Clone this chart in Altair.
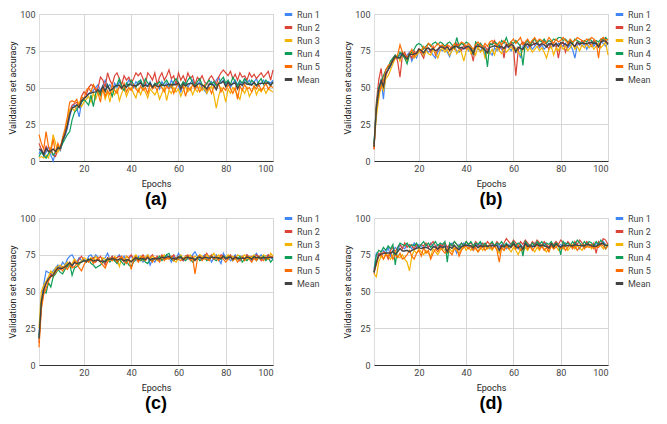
import altair as alt
import pandas as pd

epochs = list(range(1, 101))
series_names = ["Run 1", "Run 2", "Run 3", "Run 4", "Run 5", "Mean"]
series_colors = ["#4285F4", "#DB4437", "#F4B400", "#0F9D58", "#FF6D01", "#434343"]
x_ticks = [20, 40, 60, 80, 100]
y_ticks = [0, 25, 50, 75, 100]
panel_labels = ["(a)", "(b)", "(c)", "(d)"]

# ---------- panel (a) ----------
a_run1 = [5, 8, 3, 6, 10, 4, 0, 6, 9, 7,
          13, 17, 22, 30, 37, 38, 36, 30, 40, 42,
          44, 46, 47, 48, 50, 52, 48, 51, 55, 50,
          52, 48, 53, 50, 54, 51, 49, 52, 55, 53,
          50, 54, 52, 55, 49, 53, 51, 54, 50, 52,
          53, 49, 54, 51, 53, 50, 55, 52, 54, 51,
          47, 52, 54, 50, 53, 55, 51, 52, 54, 50,
          48, 46, 52, 54, 51, 55, 57, 53, 55, 52,
          54, 50, 53, 55, 52, 54, 51, 56, 53, 55,
          52, 54, 56, 51, 53, 55, 52, 54, 53, 55]
a_run2 = [12, 8, 5, 10, 6, 9, 4, 3, 8, 10,
          14, 18, 24, 34, 38, 39, 40, 38, 44, 47,
          45, 50, 52, 51, 48, 50, 57, 55, 50, 60,
          55, 52, 58, 60, 56, 52, 58, 55, 57, 53,
          56, 60, 58, 60, 56, 52, 60, 58, 55, 60,
          52, 57, 60, 55, 58, 62, 56, 58, 52, 60,
          55, 58, 54, 60, 56, 58, 52, 57, 55, 58,
          54, 52, 56, 58, 55, 52, 57, 60, 62, 60,
          58, 61, 56, 59, 55, 60, 57, 58, 55, 60,
          57, 59, 56, 58, 60, 57, 59, 61, 55, 62]
a_run3 = [2, 3, 2, 4, 2, 8, 18, 12, 6, 9,
          15, 20, 28, 35, 36, 34, 38, 40, 37, 40,
          42, 44, 40, 46, 42, 47, 44, 49, 42, 47,
          40, 48, 45, 49, 41, 46, 50, 44, 48, 50,
          46, 43, 49, 45, 50, 47, 43, 49, 47, 45,
          48, 42, 46, 50, 41, 48, 46, 50, 47, 49,
          44, 48, 51, 47, 50, 45, 49, 47, 51, 48,
          50, 46, 49, 51, 45, 36, 44, 50, 47, 40,
          49, 46, 50, 48, 45, 42, 49, 46, 50, 44,
          47, 51, 45, 49, 47, 50, 46, 49, 48, 47]
a_run4 = [3, 6, 4, 2, 5, 7, 4, 6, 10, 8,
          12, 15, 18, 20, 28, 33, 35, 38, 40, 42,
          40, 38, 45, 37, 46, 48, 45, 50, 47, 52,
          48, 44, 50, 52, 56, 50, 48, 53, 51, 55,
          52, 50, 54, 55, 51, 56, 53, 52, 50, 53,
          52, 54, 51, 53, 55, 52, 50, 54, 56, 53,
          51, 54, 52, 55, 57, 53, 51, 54, 56, 52,
          50, 53, 55, 52, 54, 51, 53, 55, 57, 53,
          55, 52, 57, 54, 51, 55, 53, 56, 54, 52,
          55, 53, 51, 54, 56, 52, 55, 53, 51, 54]
a_run5 = [18, 12, 8, 20, 10, 6, 15, 5, 12, 8,
          16, 22, 30, 40, 41, 40, 42, 36, 44, 42,
          48, 50, 47, 52, 49, 46, 40, 50, 44, 48,
          45, 52, 48, 46, 51, 49, 53, 47, 50, 48,
          52, 49, 47, 51, 48, 50, 46, 52, 49, 51,
          48, 52, 50, 47, 51, 49, 52, 46, 50, 53,
          49, 51, 44, 50, 48, 52, 49, 51, 47, 50,
          52, 48, 50, 46, 51, 49, 53, 47, 50, 48,
          52, 49, 46, 50, 42, 51, 48, 52, 49, 50,
          47, 51, 49, 52, 48, 50, 53, 49, 51, 50]

# ---------- panel (b) ----------
b_run1 = [10, 35, 48, 55, 42, 60, 62, 64, 68, 72,
          70, 72, 74, 70, 72, 74, 68, 72, 70, 75,
          74, 72, 76, 74, 75, 72, 70, 74, 76, 75,
          77, 74, 71, 76, 78, 75, 74, 77, 76, 78,
          75, 77, 74, 78, 76, 75, 77, 72, 76, 74,
          72, 77, 75, 78, 76, 74, 78, 77, 75, 78,
          74, 76, 70, 78, 80, 77, 79, 76, 78, 80,
          77, 79, 76, 78, 80, 77, 79, 78, 80, 79,
          78, 80, 77, 79, 76, 70, 79, 80, 78, 80,
          76, 79, 81, 78, 80, 79, 81, 80, 78, 80]
b_run2 = [8, 40, 55, 63, 50, 58, 62, 66, 70, 72,
          68, 57, 72, 74, 70, 73, 70, 75, 72, 76,
          73, 70, 76, 77, 74, 78, 72, 76, 78, 77,
          76, 79, 75, 78, 76, 80, 77, 75, 79, 76,
          78, 75, 68, 79, 77, 80, 76, 78, 75, 79,
          80, 82, 78, 76, 79, 70, 80, 78, 81, 77,
          58, 75, 79, 81, 78, 80, 77, 82, 79, 81,
          78, 80, 82, 79, 76, 81, 78, 80, 70, 79,
          81, 74, 79, 82, 80, 78, 81, 79, 82, 80,
          79, 81, 78, 82, 80, 78, 81, 84, 82, 80]
b_run3 = [10, 30, 42, 52, 48, 56, 58, 62, 66, 70,
          72, 68, 74, 70, 68, 72, 74, 70, 72, 74,
          76, 72, 75, 73, 72, 76, 74, 70, 75, 77,
          74, 76, 72, 75, 78, 73, 76, 74, 68, 75,
          77, 73, 76, 72, 78, 74, 76, 70, 75, 73,
          76, 72, 78, 75, 73, 77, 74, 76, 78, 75,
          77, 74, 72, 76, 78, 75, 77, 74, 76, 78,
          75, 77, 74, 70, 76, 78, 72, 77, 75, 79,
          76, 78, 75, 77, 80, 76, 78, 75, 79, 77,
          80, 77, 79, 76, 78, 80, 77, 79, 81, 72]
b_run4 = [12, 38, 50, 54, 58, 62, 64, 68, 70, 72,
          70, 74, 72, 70, 66, 72, 74, 76, 79, 80,
          79, 76, 78, 80, 78, 80, 81, 79, 81, 80,
          78, 80, 81, 79, 77, 84, 78, 80, 79, 81,
          80, 78, 72, 81, 79, 80, 78, 76, 64, 80,
          79, 81, 80, 78, 82, 80, 84, 79, 81, 80,
          82, 80, 78, 65, 80, 82, 79, 81, 83, 80,
          82, 81, 83, 80, 82, 81, 83, 82, 84, 84,
          82, 83, 81, 82, 80, 83, 82, 81, 80, 82,
          81, 83, 82, 80, 82, 81, 83, 82, 84, 82]
b_run5 = [8, 36, 46, 50, 55, 62, 65, 66, 68, 70,
          72, 79, 74, 72, 70, 73, 76, 71, 74, 76,
          74, 78, 76, 80, 79, 76, 78, 80, 78, 79,
          77, 79, 78, 76, 80, 78, 79, 81, 80, 78,
          80, 78, 76, 79, 81, 79, 77, 80, 78, 81,
          82, 80, 78, 81, 79, 82, 80, 78, 81, 83,
          80, 82, 84, 79, 81, 83, 80, 82, 84, 81,
          83, 82, 80, 81, 84, 82, 80, 83, 81, 82,
          84, 82, 80, 83, 81, 82, 84, 83, 82, 81,
          83, 82, 84, 83, 81, 70, 83, 84, 82, 83]

# ---------- panel (c) ----------
c_run1 = [20, 45, 55, 64, 63, 62, 64, 66, 68, 66,
          70, 68, 72, 74, 75, 72, 70, 73, 71, 72,
          70, 74, 75, 72, 75, 73, 70, 72, 73, 76,
          72, 74, 71, 73, 75, 72, 74, 70, 72, 74,
          73, 71, 74, 72, 70, 73, 75, 68, 72, 70,
          73, 71, 74, 72, 75, 73, 70, 74, 72, 76,
          73, 71, 74, 72, 73, 75, 77, 74, 72, 73,
          75, 72, 74, 70, 73, 75, 72, 69, 76, 73,
          74, 71, 72, 75, 73, 71, 74, 72, 75, 73,
          71, 74, 76, 73, 75, 72, 74, 75, 73, 72]
c_run2 = [15, 40, 50, 56, 58, 62, 60, 64, 66, 65,
          67, 66, 68, 70, 67, 71, 69, 72, 74, 71,
          70, 72, 71, 73, 70, 72, 74, 71, 68, 73,
          72, 74, 71, 73, 74, 72, 70, 74, 73, 75,
          72, 74, 71, 73, 75, 72, 74, 73, 75, 72,
          74, 72, 75, 73, 72, 74, 73, 75, 72, 74,
          73, 71, 74, 75, 72, 74, 71, 73, 75, 72,
          74, 76, 73, 75, 72, 74, 73, 75, 74, 72,
          73, 75, 72, 74, 73, 71, 74, 72, 75, 73,
          74, 72, 75, 73, 71, 74, 72, 75, 73, 74]
c_run3 = [25, 50, 54, 57, 60, 64, 62, 66, 67, 68,
          66, 68, 70, 67, 69, 72, 70, 68, 71, 73,
          72, 70, 73, 71, 74, 72, 70, 73, 72, 71,
          73, 71, 74, 72, 67, 73, 71, 74, 72, 70,
          73, 75, 72, 74, 71, 73, 75, 72, 74, 73,
          71, 74, 73, 75, 72, 74, 73, 71, 70, 73,
          75, 72, 74, 73, 75, 72, 74, 73, 75, 74,
          72, 75, 73, 74, 76, 73, 75, 72, 74, 73,
          75, 73, 74, 72, 75, 74, 73, 75, 72, 74,
          73, 75, 72, 74, 73, 75, 74, 72, 76, 74]
c_run4 = [18, 42, 50, 49, 56, 53, 60, 62, 65, 63,
          62, 65, 67, 69, 61, 66, 67, 69, 70, 71,
          70, 72, 69, 68, 66, 67, 68, 70, 71, 72,
          70, 72, 71, 69, 72, 70, 68, 71, 68, 67,
          70, 72, 73, 71, 72, 70, 69, 72, 71, 73,
          72, 74, 71, 73, 75, 76, 72, 71, 73, 72,
          74, 72, 71, 73, 72, 70, 72, 73, 71, 72,
          73, 71, 72, 74, 72, 71, 73, 72, 74, 73,
          72, 74, 71, 73, 72, 74, 70, 72, 71, 73,
          72, 74, 71, 73, 72, 74, 71, 73, 70, 72]
c_run5 = [12, 38, 48, 52, 57, 60, 61, 63, 65, 66,
          64, 67, 65, 68, 66, 67, 69, 66, 64, 68,
          71, 70, 72, 69, 71, 73, 70, 68, 66, 70,
          72, 71, 73, 70, 72, 74, 71, 69, 72, 65,
          71, 73, 70, 72, 74, 71, 73, 72, 70, 73,
          72, 70, 74, 71, 73, 72, 74, 71, 73, 72,
          71, 73, 72, 74, 71, 73, 62, 72, 74, 71,
          73, 72, 71, 74, 72, 73, 71, 74, 72, 70,
          72, 74, 71, 73, 70, 72, 73, 71, 74, 72,
          70, 73, 71, 74, 72, 71, 73, 72, 74, 73]

# ---------- panel (d) ----------
d_run1 = [65, 76, 74, 77, 78, 76, 80, 74, 78, 80,
          78, 82, 80, 79, 82, 81, 79, 83, 80, 82,
          81, 79, 82, 80, 83, 81, 80, 82, 81, 79,
          82, 80, 81, 83, 80, 76, 82, 80, 83, 81,
          82, 80, 78, 82, 81, 83, 80, 82, 81, 79,
          82, 81, 83, 80, 82, 81, 79, 82, 80, 83,
          81, 79, 82, 80, 83, 81, 82, 80, 83, 81,
          82, 80, 83, 81, 79, 82, 80, 83, 81, 82,
          80, 83, 81, 82, 80, 83, 81, 79, 82, 80,
          83, 81, 82, 80, 83, 81, 82, 84, 82, 81]
d_run2 = [62, 70, 76, 74, 77, 76, 72, 78, 80, 77,
          80, 82, 79, 83, 80, 82, 81, 79, 82, 80,
          82, 81, 83, 80, 82, 84, 81, 79, 82, 81,
          83, 80, 82, 81, 84, 82, 80, 83, 81, 84,
          82, 83, 81, 84, 82, 80, 83, 81, 84, 82,
          83, 81, 84, 82, 80, 83, 86, 84, 82, 85,
          83, 81, 84, 82, 85, 83, 81, 84, 82, 85,
          83, 81, 84, 82, 80, 83, 82, 84, 82, 85,
          83, 81, 84, 82, 80, 84, 82, 85, 83, 81,
          84, 82, 80, 83, 76, 84, 82, 86, 85, 82]
d_run3 = [62, 60, 70, 74, 72, 76, 74, 72, 75, 77,
          74, 73, 75, 72, 70, 64, 74, 78, 76, 79,
          77, 75, 78, 76, 74, 79, 77, 75, 78, 80,
          78, 76, 79, 77, 80, 78, 76, 79, 81, 78,
          80, 78, 81, 79, 77, 80, 78, 81, 79, 80,
          78, 81, 79, 76, 80, 78, 81, 79, 77, 80,
          78, 75, 79, 77, 80, 78, 81, 79, 77, 80,
          78, 81, 79, 77, 80, 82, 79, 81, 78, 80,
          79, 81, 78, 80, 82, 79, 81, 80, 78, 81,
          80, 82, 79, 81, 80, 82, 81, 79, 82, 81]
d_run4 = [63, 75, 78, 77, 80, 78, 81, 79, 82, 68,
          80, 83, 82, 81, 83, 80, 82, 81, 83, 80,
          82, 84, 81, 83, 80, 82, 84, 81, 83, 82,
          84, 70, 83, 81, 84, 82, 80, 83, 81, 84,
          82, 84, 81, 83, 82, 84, 81, 83, 80, 82,
          84, 81, 83, 82, 84, 81, 83, 80, 82, 84,
          81, 83, 82, 74, 84, 82, 80, 83, 81, 84,
          82, 84, 81, 83, 82, 84, 81, 83, 82, 75,
          84, 82, 83, 81, 84, 82, 85, 83, 81, 84,
          82, 84, 83, 81, 84, 82, 85, 83, 79, 82]
d_run5 = [64, 68, 74, 76, 72, 75, 74, 77, 72, 75,
          73, 76, 72, 73, 75, 78, 74, 72, 76, 78,
          74, 80, 76, 78, 72, 76, 79, 77, 80, 78,
          76, 79, 77, 75, 79, 80, 74, 78, 80, 81,
          79, 81, 78, 80, 77, 79, 81, 78, 80, 82,
          79, 81, 78, 70, 80, 78, 81, 79, 80, 82,
          79, 81, 78, 80, 82, 79, 81, 78, 80, 82,
          79, 81, 78, 80, 77, 81, 79, 80, 82, 79,
          81, 78, 80, 82, 79, 81, 78, 80, 82, 79,
          81, 80, 82, 79, 81, 80, 82, 81, 79, 81]

panels = [
    [a_run1, a_run2, a_run3, a_run4, a_run5],
    [b_run1, b_run2, b_run3, b_run4, b_run5],
    [c_run1, c_run2, c_run3, c_run4, c_run5],
    [d_run1, d_run2, d_run3, d_run4, d_run5],
]

FONT = "Roboto"
PW, PH = 234, 147


def make_panel(runs, label, legend_dx):
    rows = []
    for name, vals in zip(series_names[:5], runs):
        for e, v in zip(epochs, vals):
            rows.append({"epoch": e, "series": name, "acc": v})
    df = pd.DataFrame(rows)

    x = alt.X("epoch:Q",
              scale=alt.Scale(domain=[1, 100], nice=False, zero=False),
              axis=alt.Axis(values=x_ticks, title="Epochs", grid=True,
                            gridColor="#d6d6d6", domainColor="#333333",
                            tickSize=0, labelPadding=3, titlePadding=6,
                            labelFontSize=9, labelColor="#444444",
                            titleFontSize=9, titleFontWeight="normal",
                            titleColor="#222222", labelFont=FONT, titleFont=FONT))
    y = alt.Y("acc:Q",
              scale=alt.Scale(domain=[0, 100], nice=False),
              axis=alt.Axis(values=y_ticks, title="Validation set accuracy",
                            grid=True, gridColor="#d6d6d6", domain=False,
                            tickSize=0, labelPadding=4, titlePadding=2,
                            labelFontSize=9, labelColor="#444444",
                            titleFontSize=9, titleFontWeight="normal",
                            titleColor="#222222", labelFont=FONT, titleFont=FONT))
    color = alt.Color("series:N",
                      scale=alt.Scale(domain=series_names, range=series_colors),
                      legend=alt.Legend(title=None, symbolType="stroke",
                                        symbolSize=56, symbolStrokeWidth=3,
                                        labelFontSize=9, labelColor="#444444",
                                        labelFont=FONT, rowPadding=0,
                                        labelOffset=3, padding=0,
                                        orient="none", legendX=PW + legend_dx,
                                        legendY=-5))
    runs_layer = alt.Chart(df).mark_line(strokeWidth=1.2).encode(
        x=x, y=y, color=color)
    mean_layer = alt.Chart(df).transform_aggregate(
        acc="mean(acc)", groupby=["epoch"]
    ).transform_calculate(series="'Mean'").mark_line(strokeWidth=1.4).encode(
        x=x, y=y, color=color)
    return alt.layer(runs_layer, mean_layer).properties(
        width=PW, height=PH,
        title=alt.TitleParams(label, orient="bottom", fontSize=18,
                              fontWeight="bold", font="Liberation Sans",
                              color="#000000", offset=3))


charts = [make_panel(panels[0], "(a)", 10), make_panel(panels[1], "(b)", 6),
          make_panel(panels[2], "(c)", 10), make_panel(panels[3], "(d)", 6)]
top = alt.hconcat(charts[0], charts[1], spacing=22).resolve_scale(
    color="independent").resolve_legend(color="independent")
bottom = alt.hconcat(charts[2], charts[3], spacing=22).resolve_scale(
    color="independent").resolve_legend(color="independent")
chart = alt.vconcat(top, bottom, spacing=2).resolve_scale(
    color="independent").resolve_legend(color="independent").properties(
    padding=0
).configure_view(stroke=None).configure(background="#ffffff")

chart.save("out.html", embed_options={"renderer": "svg", "actions": False})
